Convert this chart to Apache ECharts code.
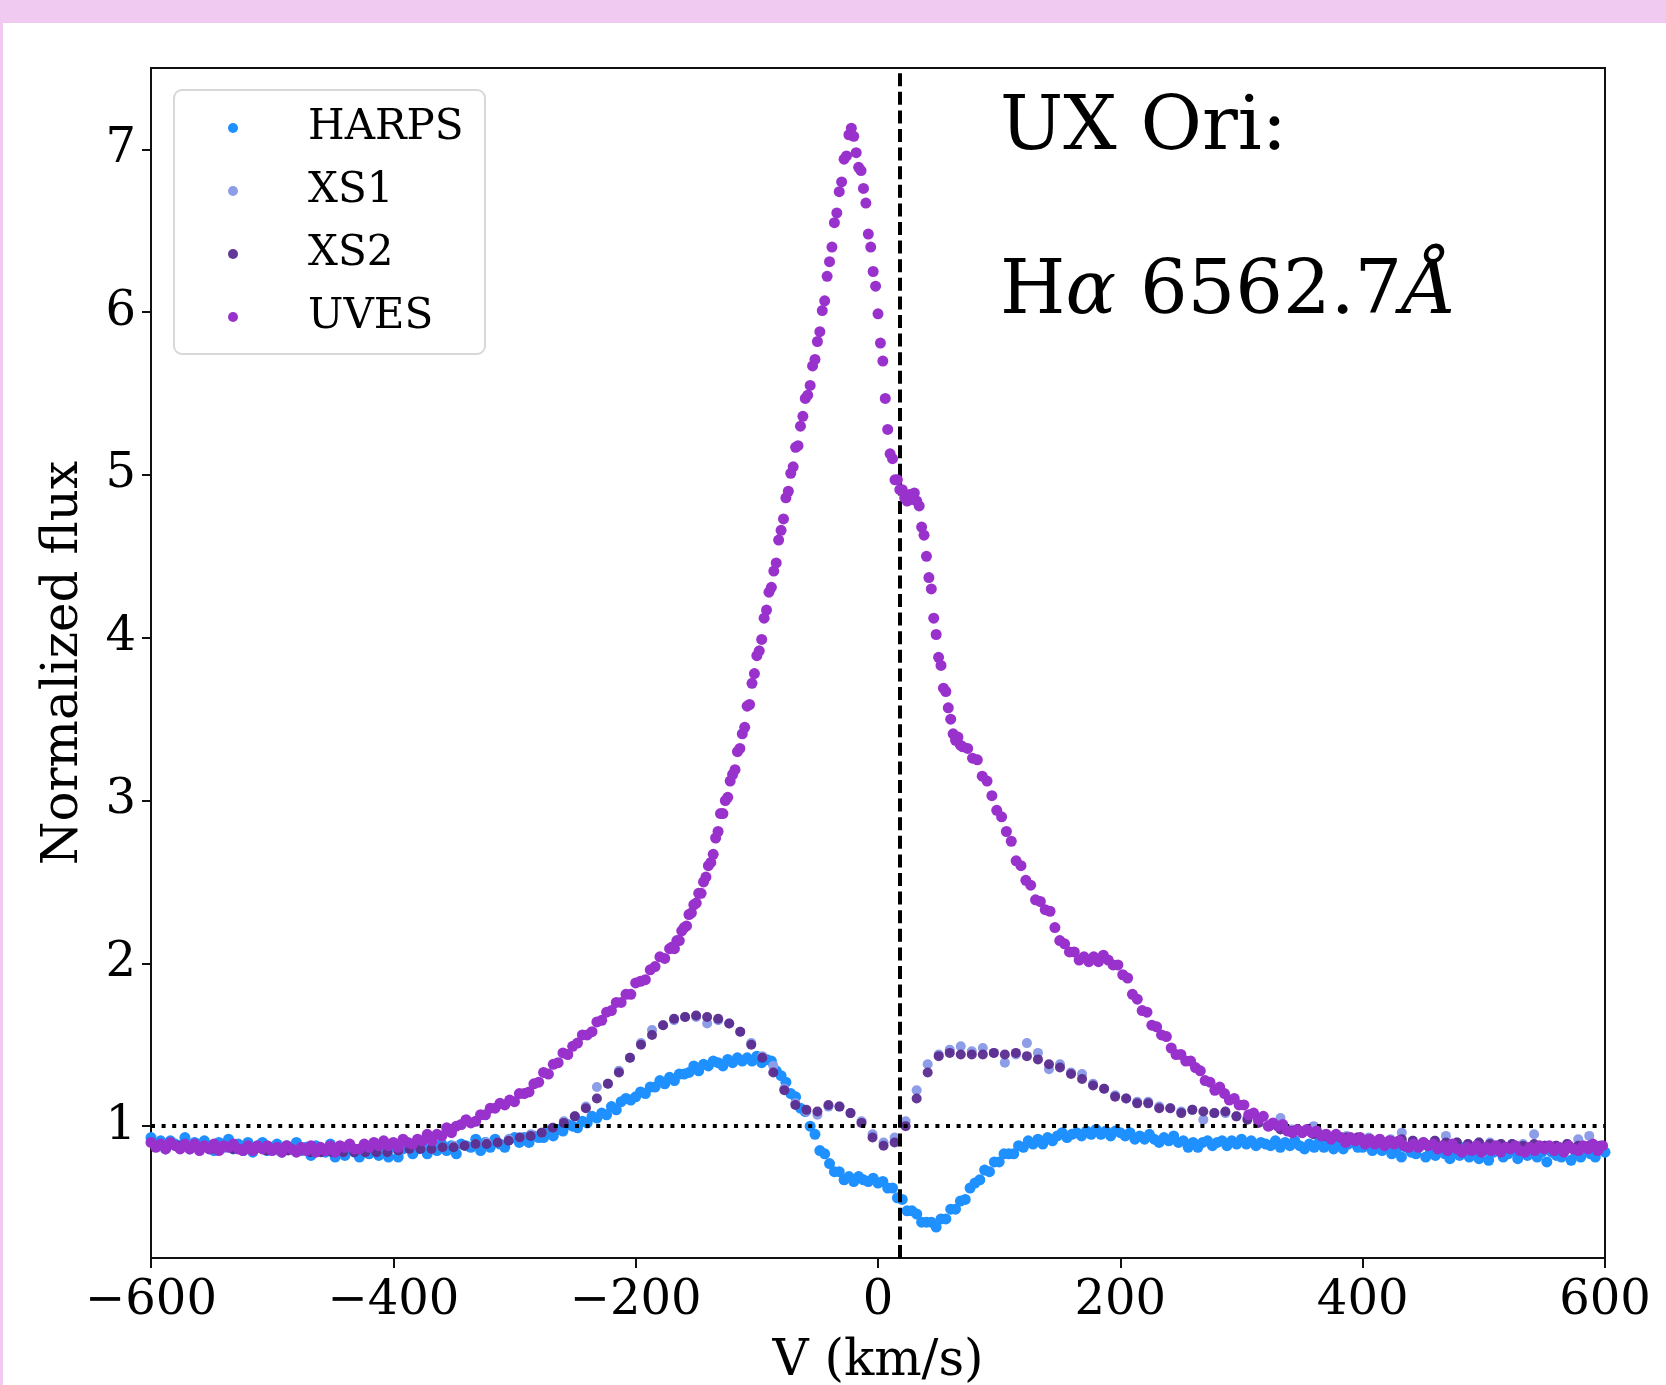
<!DOCTYPE html>
<html>
<head>
<meta charset="utf-8">
<script src="https://cdn.jsdelivr.net/npm/echarts@6/dist/echarts.min.js"></script>
<style>
html,body{margin:0;padding:0;background:#F0CAF0;width:1666px;height:1385px;overflow:hidden;}
#paper{position:absolute;left:3px;top:23px;width:1663px;height:1362px;background:#fff;}
#chart{position:absolute;left:0;top:0;width:1666px;height:1385px;}
</style>
</head>
<body>
<div id="paper"></div>
<div id="chart"></div>
<script>
// ---------- data ----------
const xTicks = [-600, -400, -200, 0, 200, 400, 600];
const yTicks = [1, 2, 3, 4, 5, 6, 7];
const seriesNames = ['HARPS', 'XS1', 'XS2', 'UVES'];
const systemicVelocity = 18;   // dashed vertical line (km/s)
const continuumLevel = 1;      // dotted horizontal line

// velocity sampling grids: [start, step, count]
const harpsGrid = [[-600, 4, 301]];
const uvesGrid = [[-600, 4, 108], [-170, 2, 121], [74, 4, 132]];
const xsGrid = [[-596, 9.1, 132]];

const harpsFlux = [
 .93,.88,.91,.86,.91,.89,.88,.93,.86,.90,.87,.91,.88,.85,.90,
 .87,.92,.86,.89,.85,.90,.84,.88,.90,.85,.87,.89,.84,.88,.86,
 .90,.85,.87,.82,.88,.85,.84,.89,.81,.85,.82,.87,.84,.81,.86,
 .83,.88,.82,.85,.81,.87,.81,.86,.88,.83,.86,.88,.83,.87,.85,
 .89,.85,.88,.83,.89,.88,.87,.92,.85,.90,.87,.92,.89,.87,.92,
 .93,.90,.93,.90,.94,.93,.93,.97,.94,.98,.97,1.01,1.00,.99,1.03,
 1.02,1.06,1.05,1.08,1.07,1.12,1.10,1.15,1.17,1.16,1.18,1.21,1.20,1.24,1.24,
 1.28,1.26,1.30,1.28,1.32,1.32,1.33,1.37,1.34,1.38,1.37,1.40,1.39,1.37,1.41,
 1.39,1.42,1.40,1.42,1.40,1.43,1.39,1.41,1.40,1.34,1.31,1.27,1.20,1.18,1.11,
 1.09,1.00,.95,.85,.83,.77,.72,.72,.67,.69,.66,.69,.67,.66,.68,
 .65,.66,.62,.62,.56,.55,.48,.48,.46,.41,.41,.41,.38,.43,.43,
 .49,.49,.54,.55,.62,.65,.67,.73,.72,.78,.78,.83,.83,.83,.88,
 .87,.91,.89,.92,.89,.93,.91,.94,.96,.93,.95,.96,.94,.97,.95,
 .98,.95,.97,.94,.97,.96,.94,.96,.92,.94,.92,.95,.92,.90,.93,
 .91,.94,.90,.91,.87,.90,.87,.90,.91,.88,.90,.91,.88,.91,.89,
 .92,.89,.91,.88,.90,.89,.88,.91,.87,.90,.88,.91,.88,.86,.89,
 .87,.90,.87,.89,.86,.89,.86,.89,.90,.87,.87,.88,.85,.87,.85,
 .88,.83,.86,.81,.87,.84,.83,.88,.81,.85,.82,.87,.83,.80,.85,
 .82,.87,.81,.84,.80,.85,.79,.84,.86,.81,.83,.85,.80,.84,.82,
 .86,.81,.84,.78,.84,.82,.81,.86,.79,.83,.81,.86,.83,.81,.86,
 .84
];

const uvesFlux = [
 // -600 .. -172 (4 km/s)
 .90,.87,.89,.86,.90,.88,.86,.89,.86,.89,.85,.88,
 .86,.89,.85,.88,.87,.89,.86,.85,.88,.85,.88,.86,
 .88,.85,.87,.84,.88,.86,.84,.87,.85,.88,.84,.87,
 .85,.88,.84,.88,.87,.89,.86,.86,.89,.87,.90,.88,
 .91,.88,.90,.87,.92,.90,.89,.92,.91,.95,.91,.95,
 .94,.99,.96,1.00,1.01,1.04,1.02,1.03,1.07,1.07,1.11,1.11,
 1.14,1.13,1.16,1.15,1.20,1.20,1.21,1.26,1.27,1.33,1.32,1.38,
 1.39,1.45,1.44,1.49,1.51,1.56,1.56,1.58,1.64,1.65,1.70,1.71,
 1.76,1.76,1.81,1.81,1.88,1.89,1.90,1.96,1.98,2.04,2.03,2.09,
 // -170 .. 70 (2 km/s)
 2.10,2.09,2.14,2.14,2.20,2.22,2.23,2.30,2.31,2.36,
 2.37,2.43,2.43,2.50,2.53,2.60,2.62,2.67,2.77,2.81,
 2.92,2.92,3.00,3.02,3.12,3.16,3.19,3.30,3.32,3.41,
 3.45,3.58,3.59,3.72,3.78,3.89,3.92,3.99,4.12,4.17,
 4.28,4.31,4.41,4.46,4.60,4.66,4.73,4.86,4.90,5.01,
 5.05,5.17,5.18,5.30,5.36,5.47,5.49,5.55,5.67,5.71,
 5.82,5.88,6.01,6.07,6.22,6.31,6.40,6.55,6.61,6.74,
 6.80,6.94,6.96,7.09,7.13,7.08,6.98,6.89,6.87,6.76,
 6.67,6.48,6.40,6.25,6.16,5.99,5.81,5.70,5.47,5.28,
 5.13,5.10,4.97,4.97,4.91,4.91,4.86,4.84,4.88,4.85,
 4.89,4.84,4.81,4.68,4.63,4.50,4.37,4.30,4.12,4.02,
 3.88,3.83,3.69,3.67,3.57,3.50,3.41,3.37,3.39,3.34,
 3.33,
 // 74 .. 598 (4 km/s)
 3.32,3.26,3.25,3.15,3.12,3.03,2.94,2.90,2.81,2.75,2.63,2.60,
 2.51,2.48,2.39,2.38,2.33,2.32,2.22,2.14,2.12,2.07,2.07,2.02,
 2.04,2.01,2.04,2.01,2.05,2.02,1.99,1.99,1.93,1.91,1.81,1.78,
 1.71,1.70,1.62,1.61,1.56,1.55,1.48,1.44,1.44,1.40,1.40,1.36,
 1.34,1.28,1.27,1.22,1.24,1.20,1.16,1.17,1.13,1.13,1.07,1.08,
 1.04,1.06,1.00,1.02,1.00,1.01,.97,.96,.98,.96,.98,.96,
 .97,.94,.95,.92,.95,.93,.90,.93,.91,.93,.89,.92,
 .89,.92,.88,.91,.89,.91,.88,.87,.89,.87,.90,.88,
 .89,.86,.88,.85,.89,.86,.84,.87,.85,.88,.84,.87,
 .85,.88,.84,.87,.86,.88,.85,.84,.87,.85,.88,.86,
 .88,.85,.87,.84,.88,.86,.85,.88,.86,.89,.85,.88
];

const xs2Flux = [
 .88,.87,.88,.87,.87,.86,.87,.86,.86,.86,
 .85,.86,.85,.85,.84,.84,.84,.84,.84,.84,
 .84,.84,.85,.86,.86,.86,.87,.87,.88,.89,
 .89,.90,.91,.93,.94,.96,.99,1.02,1.06,1.11,
 1.17,1.26,1.33,1.42,1.50,1.56,1.62,1.66,1.67,1.68,
 1.67,1.66,1.63,1.58,1.50,1.42,1.33,1.22,1.13,1.10,
 1.09,1.13,1.12,1.08,1.02,.93,.88,.90,1.00,1.17,
 1.33,1.43,1.45,1.44,1.44,1.44,1.45,1.44,1.45,1.43,
 1.41,1.38,1.36,1.32,1.29,1.25,1.23,1.18,1.17,1.14,
 1.14,1.11,1.11,1.08,1.10,1.09,1.08,1.09,1.06,1.04,
 1.02,1.00,.98,.97,.96,.95,.94,.94,.93,.93,
 .92,.92,.91,.92,.91,.90,.91,.90,.90,.89,
 .90,.89,.89,.89,.88,.89,.88,.88,.89,.88,
 .88,.88
];

const xs1Flux = [
 .88,.88,.87,.88,.87,.87,.86,.87,.86,.87,
 .86,.85,.86,.85,.85,.84,.85,.84,.85,.84,
 .85,.84,.85,.86,.87,.86,.87,.88,.88,.89,
 .90,.90,.92,.93,.95,.96,.99,1.03,1.06,1.12,
 1.24,1.26,1.34,1.42,1.51,1.59,1.62,1.65,1.67,1.67,
 1.63,1.65,1.63,1.58,1.51,1.43,1.37,1.23,1.14,1.09,
 1.07,1.12,1.12,1.08,1.03,.95,.90,.93,1.03,1.22,
 1.38,1.44,1.47,1.49,1.46,1.48,1.45,1.39,1.44,1.51,
 1.45,1.35,1.38,1.33,1.32,1.26,1.23,1.19,1.17,1.15,
 1.15,1.12,1.11,1.09,1.10,1.04,1.08,1.08,1.06,1.05,
 1.03,1.01,1.05,.98,.97,1.00,.95,.94,.94,.93,
 .93,.92,.92,.96,.91,.90,.91,.94,.90,.89,
 .90,.90,.89,.89,.89,.95,.88,.88,.89,.92,
 .94,.88
];

// ---------- helpers ----------
function velocities(grid) {
  const out = [];
  grid.forEach(([start, step, n]) => {
    for (let i = 0; i < n; i++) out.push(+(start + step * i).toFixed(2));
  });
  return out;
}
function pairs(grid, flux) {
  const v = velocities(grid);
  return flux.map((f, i) => [v[i], f]);
}

const FONT = '"DejaVu Serif", "Liberation Serif", serif';
const colors = {
  HARPS: '#1E90FF',
  XS1: '#8E9DE8',
  XS2: '#5B2C8F',
  UVES: '#9932CC'
};

const chart = echarts.init(document.getElementById('chart'), null, {renderer: 'canvas'});

function scatter(name, data, z, size, opacity) {
  return {
    name, type: 'scatter', data, z,
    symbol: 'circle', symbolSize: size,
    itemStyle: {color: colors[name], opacity: opacity},
    emphasis: {disabled: true},
    silent: true,
    animation: false
  };
}

const option = {
  animation: false,
  backgroundColor: 'transparent',
  grid: {
    left: 151, top: 68, right: 61, bottom: 127,
    containLabel: false, outerBoundsMode: 'none',
    show: true, borderColor: '#111', borderWidth: 2, backgroundColor: 'transparent'
  },
  xAxis: {
    type: 'value', min: -600, max: 600, interval: 200,
    name: 'V (km/s)', nameLocation: 'middle', nameGap: 79,
    nameTextStyle: {fontFamily: FONT, fontSize: 50, color: '#000'},
    axisLine: {show: true, onZero: false, lineStyle: {color: '#111', width: 2}},
    axisTick: {show: true, inside: false, length: 10, lineStyle: {color: '#111', width: 2}},
    axisLabel: {
      fontFamily: FONT, fontSize: 48, color: '#000', margin: 20,
      formatter: v => (v < 0 ? '\u2212' + Math.abs(v) : String(v))
    },
    splitLine: {show: false}
  },
  yAxis: {
    type: 'value', min: 0.19, max: 7.5,
    name: 'Normalized flux', nameLocation: 'middle', nameGap: 62, nameRotate: 90,
    nameTextStyle: {fontFamily: FONT, fontSize: 50, color: '#000'},
    axisLine: {show: true, onZero: false, lineStyle: {color: '#111', width: 2}},
    axisTick: {show: true, inside: false, length: 9, customValues: yTicks, lineStyle: {color: '#111', width: 2}},
    axisLabel: {fontFamily: FONT, fontSize: 48, color: '#000', margin: 15, customValues: yTicks},
    splitLine: {show: false}
  },
  legend: {
    orient: 'vertical', left: 228, top: 107, padding: 0,
    itemWidth: 10, itemHeight: 10, itemGap: 21,
    selectedMode: false, z: 6,
    formatter: name => '{s|}' + name,
    textStyle: {
      fontFamily: FONT, fontSize: 42, color: '#000',
      rich: {s: {width: 65}}
    },
    data: seriesNames.map(n => ({name: n, icon: 'circle'}))
  },
  graphic: [
    {
      type: 'rect', z: 5, silent: true,
      shape: {x: 174, y: 90, width: 311, height: 264, r: 8},
      style: {fill: 'rgba(255,255,255,0.8)', stroke: '#d8d8d8', lineWidth: 2}
    },
    {
      type: 'text', z: 6, silent: true,
      style: {
        text: 'UX Ori:', x: 1000, y: 130,
        font: '75px "DejaVu Serif"', fill: '#000',
        textAlign: 'left', textVerticalAlign: 'middle'
      }
    },
    {
      type: 'text', z: 6, silent: true,
      style: {
        text: 'H{it|α} 6562.7{it|Å}', x: 1000, y: 294,
        font: '75px "DejaVu Serif"', fill: '#000',
        textAlign: 'left', textVerticalAlign: 'middle',
        rich: {it: {fontStyle: 'italic', fontSize: 75, fontFamily: 'DejaVu Serif', fill: '#000'}}
      }
    }
  ],
  series: [
    {
      name: 'continuum', type: 'line', data: [], z: 1, silent: true,
      markLine: {
        silent: true, symbol: ['none', 'none'], label: {show: false}, animation: false,
        lineStyle: {color: '#000', width: 4, type: [4, 6.6]},
        emphasis: {disabled: true},
        data: [{yAxis: continuumLevel}]
      }
    },
    scatter('HARPS', pairs(harpsGrid, harpsFlux), 2, 11, 1),
    scatter('XS1', pairs(xsGrid, xs1Flux), 3, 10, 1),
    scatter('XS2', pairs(xsGrid, xs2Flux), 4, 10, 0.95),
    scatter('UVES', pairs(uvesGrid, uvesFlux), 5, 11, 1),
    {
      name: 'systemic', type: 'line', data: [], z: 8, silent: true,
      markLine: {
        silent: true, symbol: ['none', 'none'], label: {show: false}, animation: false,
        lineStyle: {color: '#000', width: 4, type: [13, 5.6]},
        emphasis: {disabled: true},
        data: [{xAxis: systemicVelocity}]
      }
    }
  ]
};
chart.setOption(option);
</script>
</body>
</html>
